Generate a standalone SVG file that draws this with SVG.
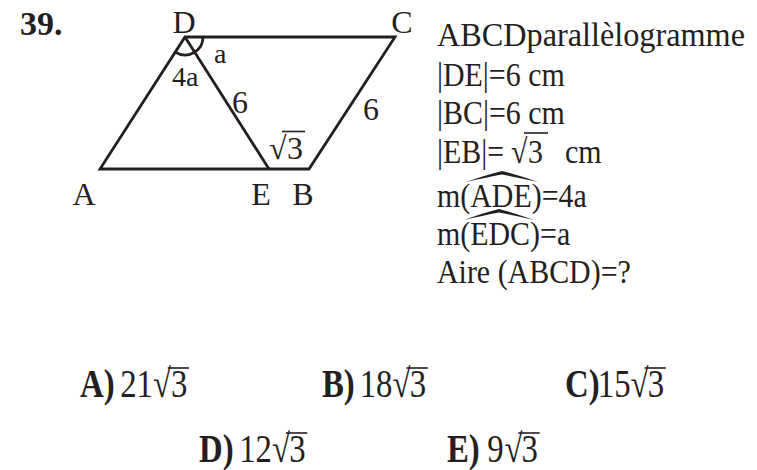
<svg xmlns="http://www.w3.org/2000/svg" width="757" height="470" viewBox="0 0 757 470">
<style>
text{font-family:"Liberation Serif","Times New Roman",serif;fill:#231f20}
.lbl{font-size:32px}
.sm{font-size:28px}
.rt{font-size:34px}
.b{font-weight:bold}
.ln{stroke:#231f20;stroke-width:2.8;fill:none;stroke-linejoin:miter}
.vin{stroke:#231f20;stroke-width:1.6}
.ans{font-size:40px}
.hat{fill:#231f20}
</style>
<rect width="757" height="470" fill="#fff"/>
<text x="20" y="35" class="b" style="font-size:34px">39.</text>

<g id="connectors">
<polygon class="ln" points="100,169 309,169 395,37 185,37"/>
<line class="ln" x1="185" y1="37" x2="269" y2="169"/>
<path class="ln" stroke-width="2.4" d="M175.3 52.1 A18 18 0 0 0 203 37"/>
</g>

<g id="node-D"><text class="lbl" x="184" y="33" text-anchor="middle">D</text></g>
<g id="node-C"><text class="lbl" x="402" y="33" text-anchor="middle">C</text></g>
<g id="node-A"><text class="lbl" x="84" y="205" text-anchor="middle">A</text></g>
<g id="node-E"><text class="lbl" x="261" y="205" text-anchor="middle">E</text></g>
<g id="node-B"><text class="lbl" x="303" y="205" text-anchor="middle">B</text></g>
<g id="labels">
<text class="sm" x="214" y="63">a</text>
<text class="sm" x="172" y="86">4a</text>
<text class="lbl" x="232" y="113">6</text>
<text class="lbl" x="363" y="120">6</text>
<text class="lbl" x="269" y="159">√</text>
<text class="lbl" x="287" y="159">3</text>
<line class="vin" x1="282" y1="131.5" x2="305" y2="131.5"/>
</g>

<g id="given">
<text class="rt" transform="translate(437,46) scale(0.88,1)" textLength="350" lengthAdjust="spacingAndGlyphs">ABCDparallèlogramme</text>
<text class="rt" transform="translate(437,86) scale(0.88,1)">|DE|=6 cm</text>
<text class="rt" transform="translate(437,124) scale(0.88,1)">|BC|=6 cm</text>
<text class="rt" transform="translate(437,163) scale(0.88,1)">|EB|=</text>
<text class="rt" transform="translate(511,163) scale(0.88,1)">√</text>
<text class="rt" transform="translate(528,163) scale(0.88,1)">3</text>
<line class="vin" x1="524" y1="133" x2="548" y2="133"/>
<text class="rt" transform="translate(565,163) scale(0.88,1)">cm</text>
<text class="rt" transform="translate(437,207) scale(0.88,1)">m(ADE)=4a</text>
<path class="hat" d="M466 182 Q486 175 502 171 Q518 175 538 182 Q518 177.5 502 174.5 Q486 177.5 466 182Z"/>
<text class="rt" transform="translate(437,245) scale(0.88,1)">m(EDC)=a</text>
<path class="hat" d="M464 220 Q483 213 499 209 Q515 213 534 220 Q515 215.5 499 212.5 Q483 215.5 464 220Z"/>
<text class="rt" transform="translate(437,283) scale(0.88,1)">Aire (ABCD)=?</text>
</g>

<g id="answers">
<g transform="translate(80,397) scale(0.82,1)">
<text class="ans"><tspan class="b">A)</tspan><tspan x="49">21</tspan><tspan x="89">√</tspan><tspan x="111">3</tspan></text>
<line class="vin" x1="107" y1="-29" x2="133" y2="-29"/>
</g>
<g transform="translate(322,397) scale(0.82,1)">
<text class="ans"><tspan class="b">B)</tspan><tspan x="46">18</tspan><tspan x="86">√</tspan><tspan x="107">3</tspan></text>
<line class="vin" x1="103" y1="-29" x2="129" y2="-29"/>
</g>
<g transform="translate(565,397) scale(0.82,1)">
<text class="ans"><tspan class="b">C)</tspan><tspan x="40">15</tspan><tspan x="80">√</tspan><tspan x="101">3</tspan></text>
<line class="vin" x1="97" y1="-29" x2="123" y2="-29"/>
</g>
<g transform="translate(199,462) scale(0.82,1)">
<text class="ans"><tspan class="b">D)</tspan><tspan x="49">12</tspan><tspan x="89">√</tspan><tspan x="110">3</tspan></text>
<line class="vin" x1="106" y1="-29" x2="132" y2="-29"/>
</g>
<g transform="translate(447,462) scale(0.82,1)">
<text class="ans"><tspan class="b">E)</tspan><tspan x="49">9</tspan><tspan x="70">√</tspan><tspan x="91">3</tspan></text>
<line class="vin" x1="87" y1="-29" x2="113" y2="-29"/>
</g>
</g>
</svg>
